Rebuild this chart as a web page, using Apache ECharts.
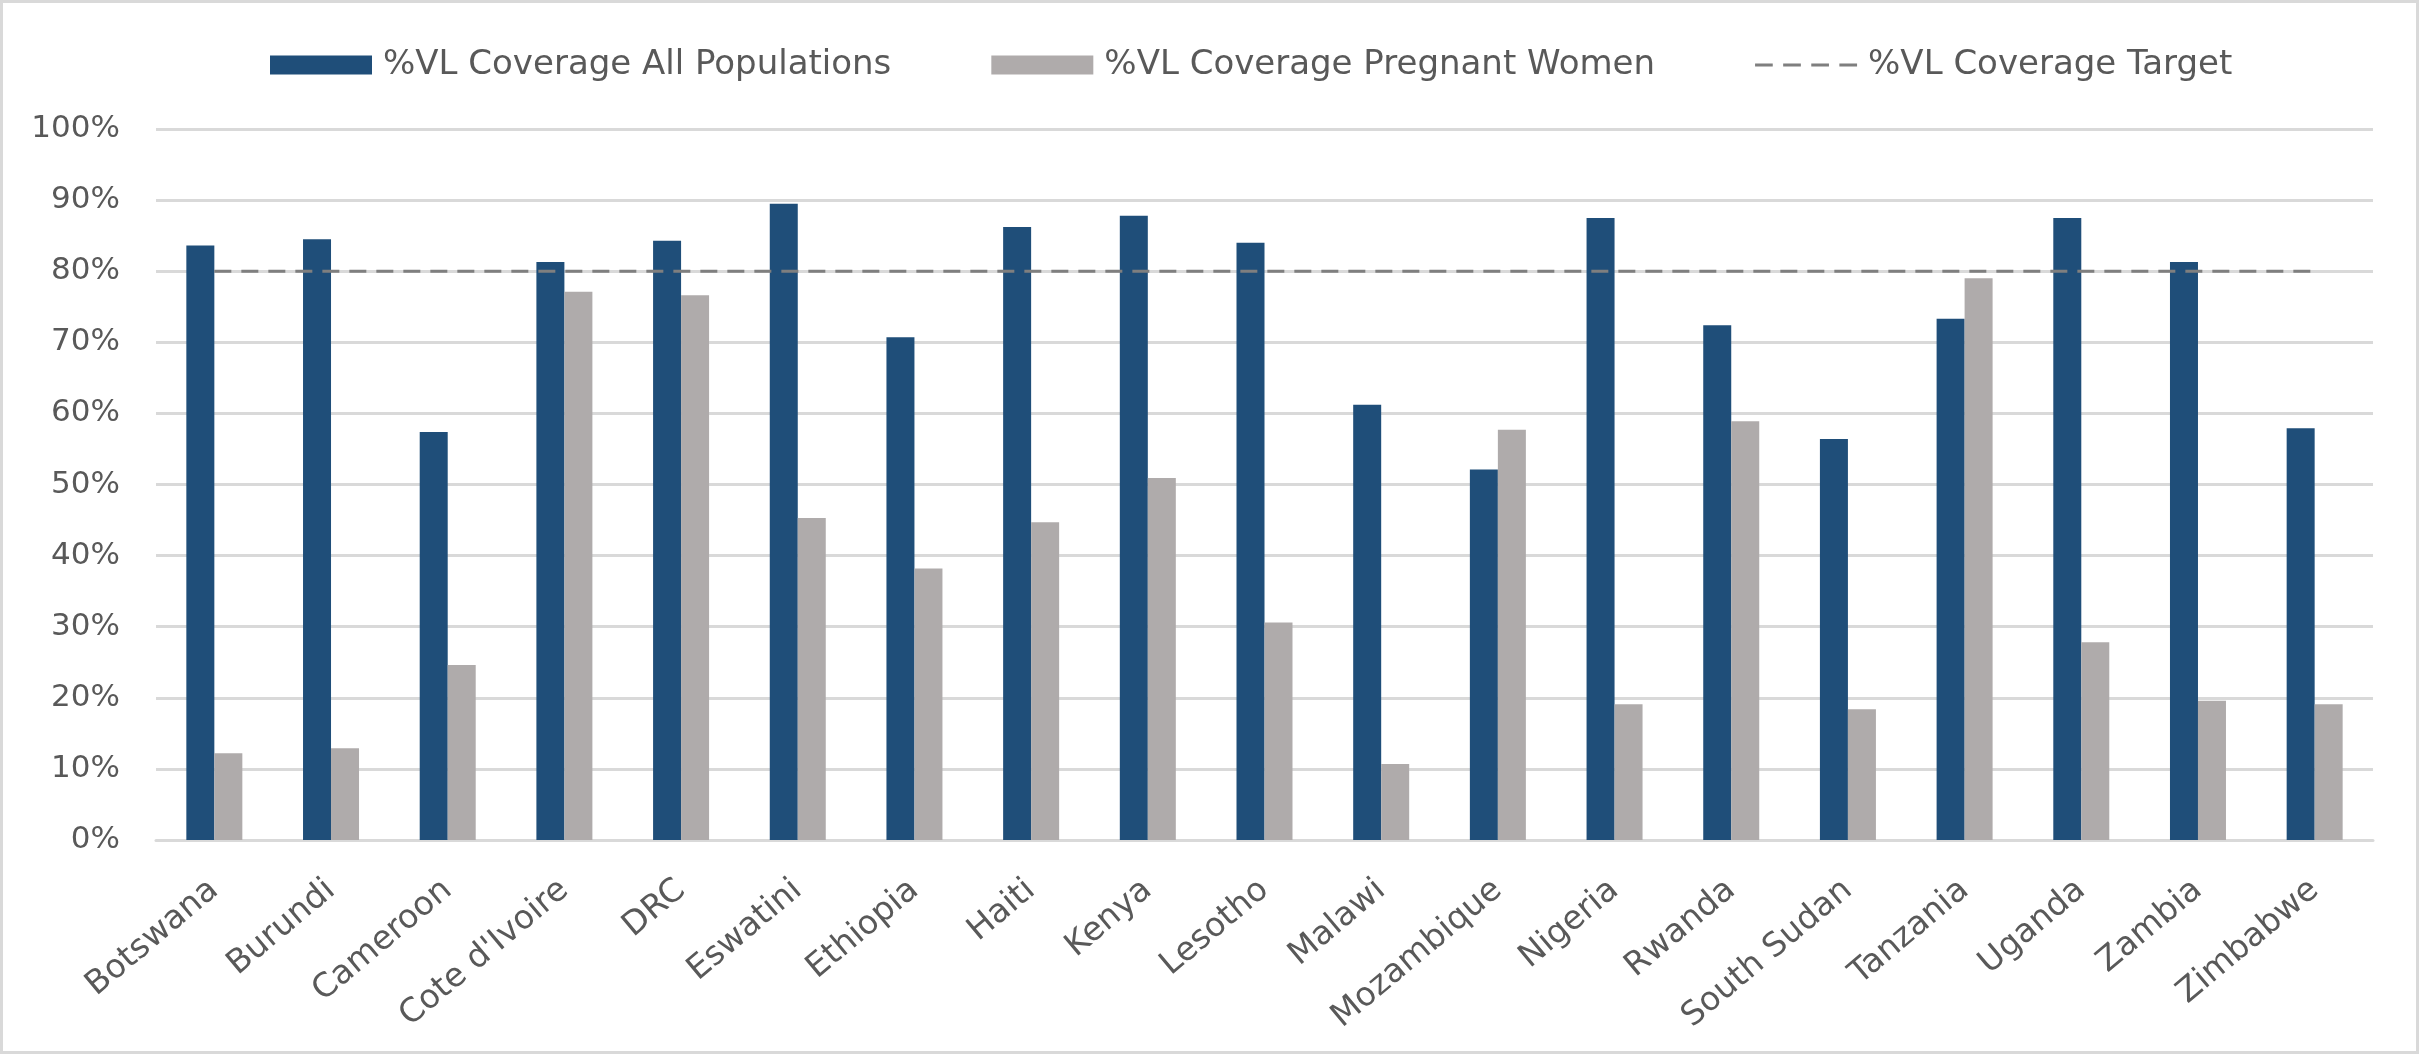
<!DOCTYPE html>
<html>
<head>
<meta charset="utf-8">
<title>%VL Coverage by Country</title>
<script src="https://cdn.jsdelivr.net/npm/echarts@6/dist/echarts.min.js"></script>
<style>
  html, body { margin: 0; padding: 0; background: #ffffff; }
  #frame {
    position: absolute; left: 0; top: 0;
    width: 2419px; height: 1054px;
    box-sizing: border-box;
    border: 3px solid #d9d9d9;
  }
  #chart { position: absolute; left: 0; top: 0; width: 2419px; height: 1054px; }
</style>
</head>
<body>
<div id="frame"></div>
<div id="chart"></div>
<script>
// Countries along the x axis
const countries = [
  'Botswana', 'Burundi', 'Cameroon', "Cote d'Ivoire", 'DRC', 'Eswatini',
  'Ethiopia', 'Haiti', 'Kenya', 'Lesotho', 'Malawi', 'Mozambique',
  'Nigeria', 'Rwanda', 'South Sudan', 'Tanzania', 'Uganda', 'Zambia', 'Zimbabwe'
];

// Viral load coverage, all populations (%)
const vlAllPopulations = [
  83.6, 84.5, 57.4, 81.3, 84.3, 89.5,
  70.7, 86.2, 87.8, 84.0, 61.2, 52.1,
  87.5, 72.4, 56.4, 73.3, 87.5, 81.3, 57.9
];

// Viral load coverage, pregnant women (%)
const vlPregnantWomen = [
  12.2, 12.9, 24.6, 77.1, 76.6, 45.3,
  38.2, 44.7, 50.9, 30.6, 10.7, 57.7,
  19.1, 58.9, 18.4, 79.0, 27.8, 19.6, 19.1
];

// Programme coverage target (%)
const vlTarget = 80;
const targetLine = countries.map(() => vlTarget);

// Y axis tick range (%)
const yMin = 0;
const yMax = 100;
const yStep = 10;

const FONT = 'DejaVu Sans';
const TEXT = '#595959';

// Four short dashes used as the legend key of the target line
const DASH_ICON = 'path://M0,0h17v3h-17z M27,0h17v3h-17z M54,0h17v3h-17z M81,0h17v3h-17z';

const chart = echarts.init(document.getElementById('chart'), null, { renderer: 'canvas' });

chart.setOption({
  animation: false,
  backgroundColor: 'transparent',
  textStyle: { fontFamily: FONT, color: TEXT },
  legend: {
    left: 265,
    top: 43,
    itemWidth: 102,
    itemHeight: 19,
    itemGap: 100,
    textStyle: { fontFamily: FONT, fontSize: 34, color: TEXT, padding: [0, 0, 0, 6] },
    data: [
      { name: '%VL Coverage All Populations', icon: 'rect' },
      { name: '%VL Coverage Pregnant Women', icon: 'rect' },
      { name: '%VL Coverage Target', icon: DASH_ICON, itemStyle: { color: '#7f7f7f' } }
    ]
  },
  grid: {
    left: 156,
    right: 46,
    top: 129,
    bottom: 214,
    containLabel: false
  },
  xAxis: {
    type: 'category',
    data: countries,
    boundaryGap: true,
    axisLine: { show: true, lineStyle: { color: '#d9d9d9', width: 3 } },
    axisTick: { show: false },
    axisLabel: {
      rotate: 40,
      interval: 0,
      margin: 46,
      fontFamily: FONT,
      fontSize: 33,
      color: TEXT
    }
  },
  yAxis: {
    type: 'value',
    min: yMin,
    max: yMax,
    interval: yStep,
    axisLine: { show: false },
    axisTick: { show: false },
    splitLine: { show: true, lineStyle: { color: '#d9d9d9', width: 3 } },
    axisLabel: {
      formatter: '{value}%',
      margin: 36,
      fontFamily: FONT,
      fontSize: 31,
      color: TEXT
    }
  },
  series: [
    {
      name: '%VL Coverage All Populations',
      type: 'bar',
      data: vlAllPopulations,
      barWidth: 28,
      barGap: '0%',
      itemStyle: { color: '#1f4e79' },
      z: 2
    },
    {
      name: '%VL Coverage Pregnant Women',
      type: 'bar',
      data: vlPregnantWomen,
      barWidth: 28,
      barGap: '0%',
      itemStyle: { color: '#afabab' },
      z: 2
    },
    {
      name: '%VL Coverage Target',
      type: 'line',
      data: targetLine,
      symbol: 'none',
      lineStyle: { color: '#7f7f7f', width: 3, type: [17, 10] },
      itemStyle: { color: '#7f7f7f' },
      z: 5
    }
  ]
});
</script>
</body>
</html>
